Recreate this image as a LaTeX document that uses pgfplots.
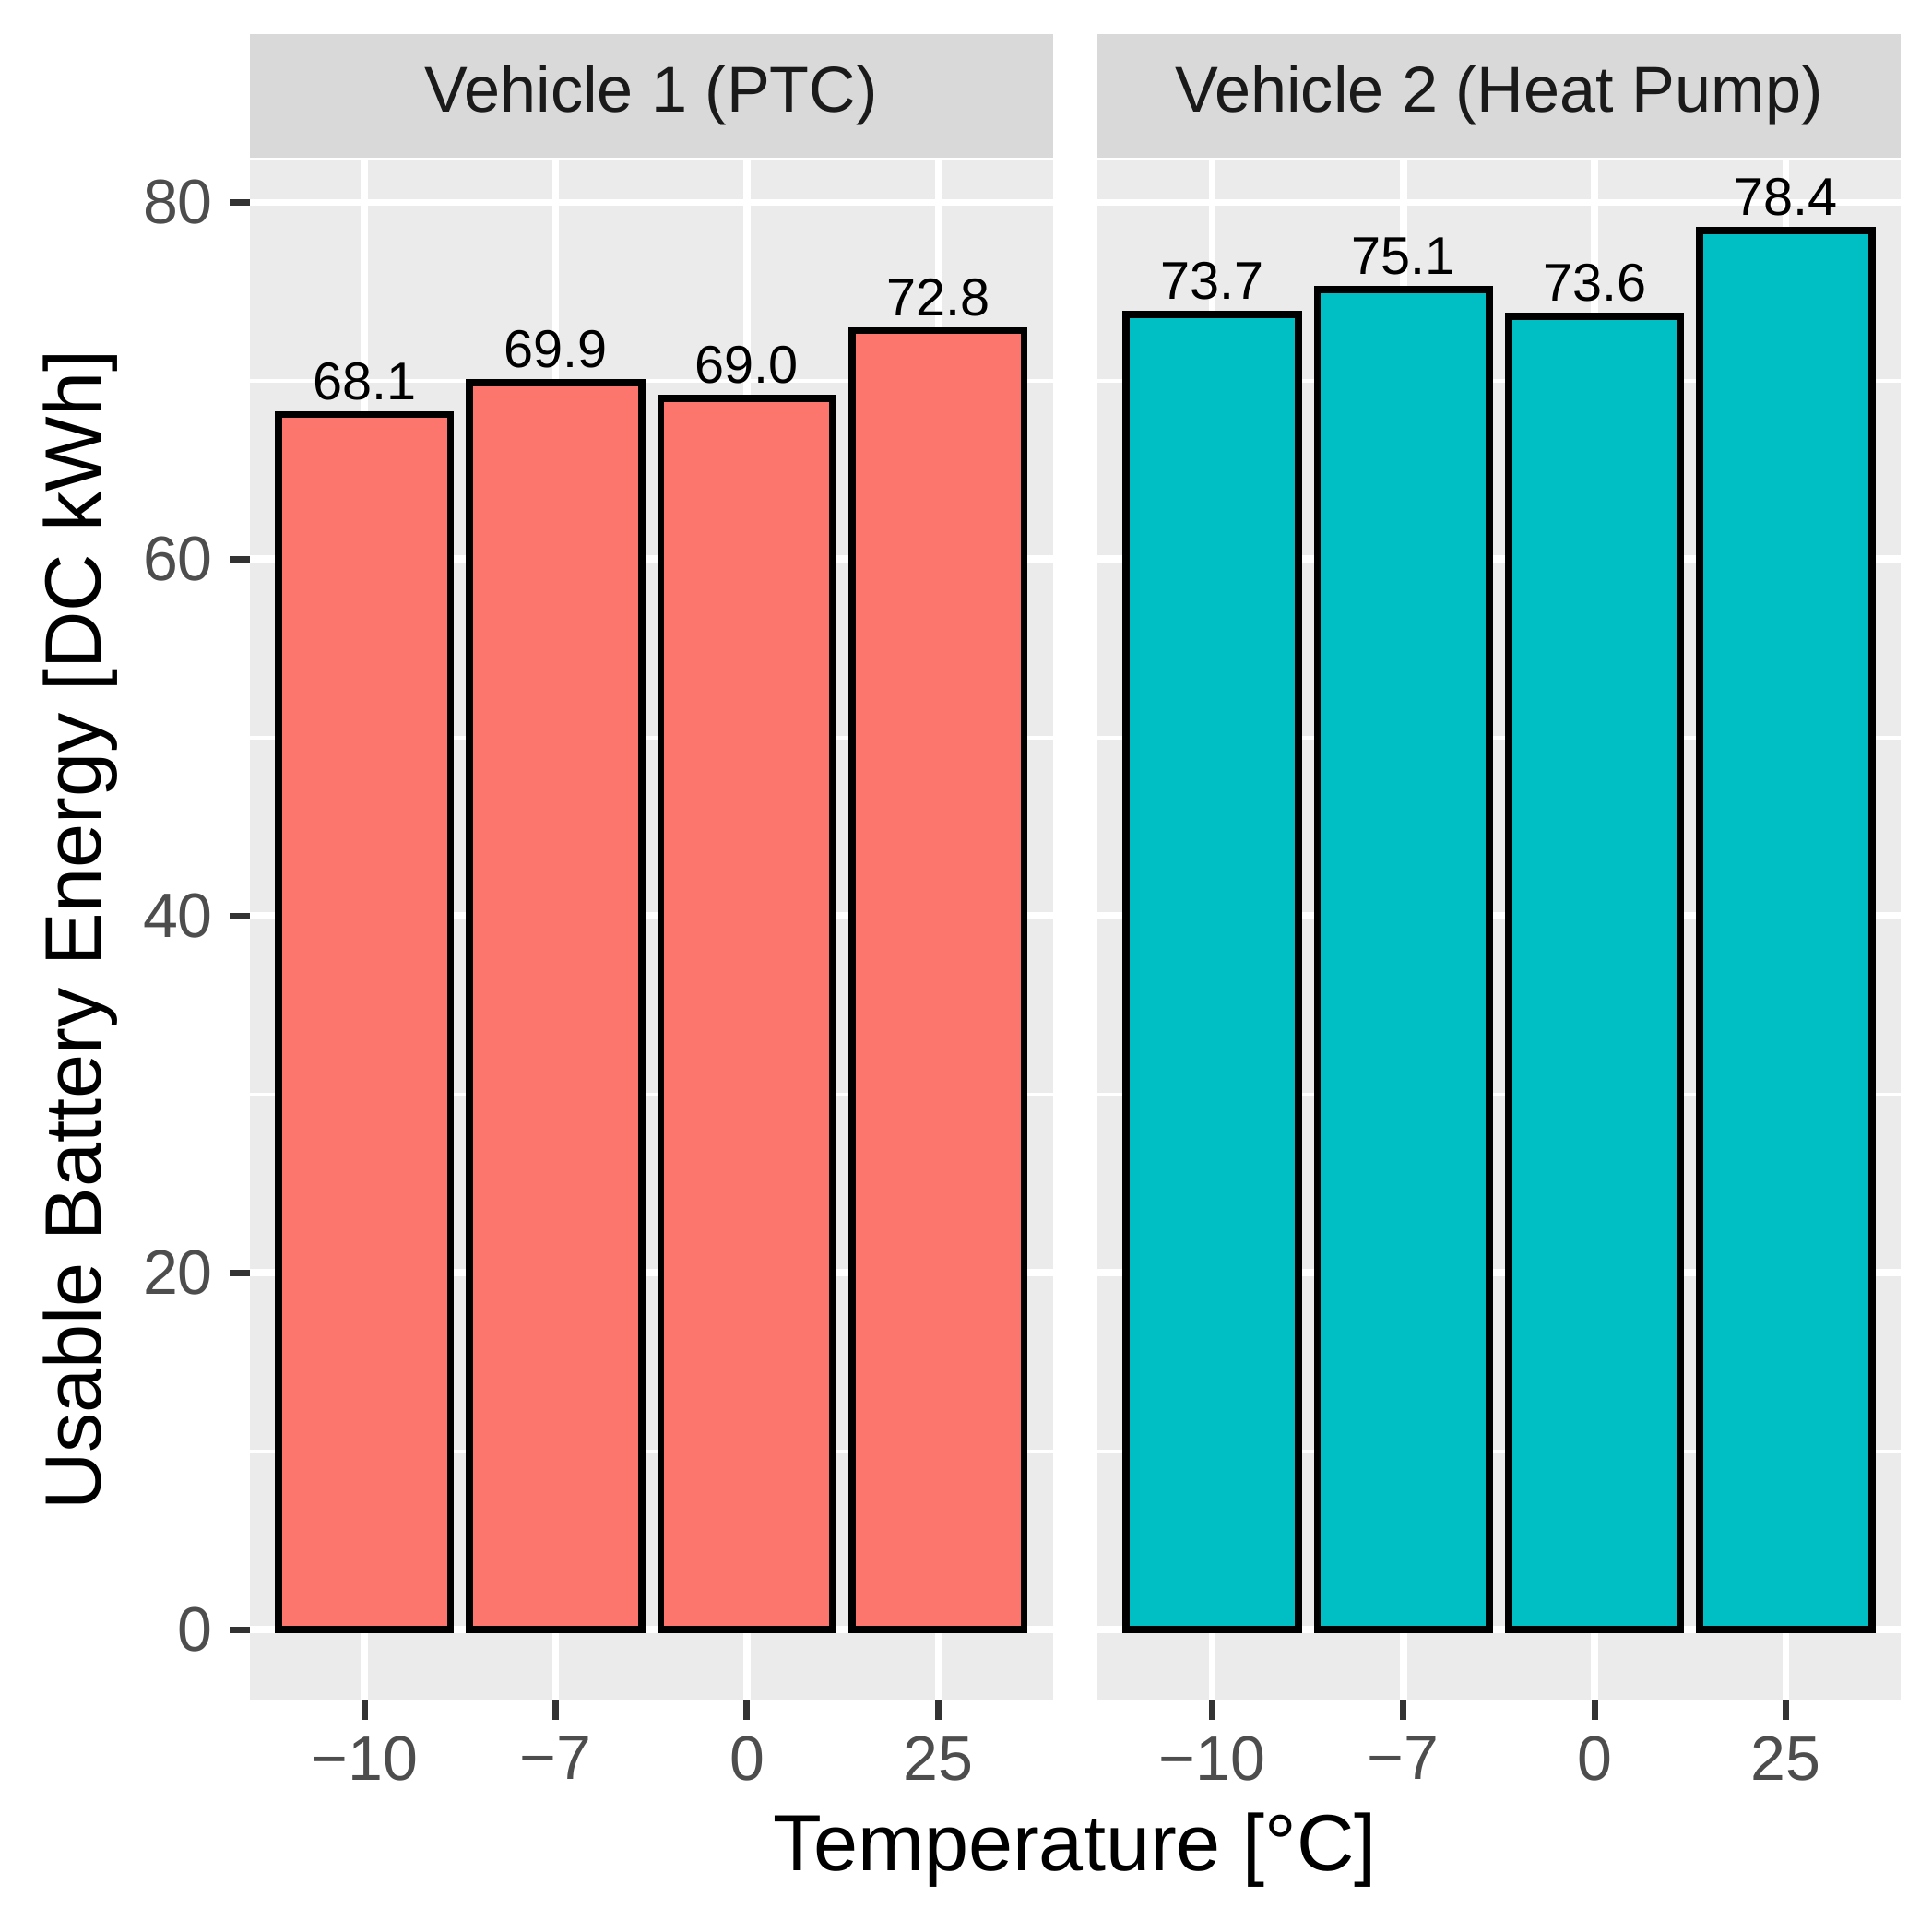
\documentclass[border=0pt]{standalone}
\usepackage{fontspec}
\setmainfont{Liberation Sans}
\usepackage{pgfplots}
\pgfplotsset{compat=1.18}
\definecolor{ggbg}{HTML}{EBEBEB}
\definecolor{stripc}{HTML}{D9D9D9}
\definecolor{ggred}{HTML}{FC766E}
\definecolor{ggteal}{HTML}{00BFC4}
\definecolor{gthirty}{HTML}{4D4D4D}
\definecolor{gtwenty}{HTML}{333333}
\definecolor{gten}{HTML}{1A1A1A}
\pgfplotsset{
 facet/.style={
  scale only axis, width=166.3pt, height=318.6pt,
  anchor=south west,
  xmin=0.4, xmax=4.6, ymin=-3.92, ymax=82.32,
  axis background/.style={fill=ggbg},
  axis line style={draw=none},
  xtick={1,2,3,4}, xticklabels={−10,−7,0,25},
  ytick={0,20,40,60,80}, yticklabels={0,20,40,60,80},
  minor ytick={10,30,50,70},
  xmajorgrids, ymajorgrids, yminorgrids,
  major grid style={white, line width=1.45pt},
  minor grid style={white, line width=0.72pt},
  tick align=outside, major tick length=4.1pt, minor tick length=0pt,
  tick style={gtwenty, line width=1.35pt},
  tick pos=left,
  xticklabel style={font=\fontsize{13}{13}\selectfont, text=gthirty},
  yticklabel style={font=\fontsize{13}{13}\selectfont, text=gthirty},
  every axis title shift=0pt,
  title style={at={(rel axis cs:0.5,1)}, anchor=south, fill=stripc, minimum width=166.3pt,
     minimum height=25.6pt, inner sep=0pt, yshift=0.5pt, font=\fontsize{13.4}{13.4}\selectfont, text=gten},
  ybar, bar width=0.9,
  nodes near coords={\pgfmathprintnumber[fixed,fixed zerofill,precision=1]{\pgfplotspointmeta}},
  every node near coord/.style={anchor=south, inner sep=2.3pt, font=\fontsize{11}{11}\selectfont, text=black},
  /pgf/number format/assume math mode=true,
 }
}
\begin{document}
\begin{tikzpicture}
\begin{axis}[facet, at={(0pt,0pt)},
  title={Vehicle 1 (PTC)},
  ylabel={Usable Battery Energy [DC kWh]},
  ylabel style={at={(axis description cs:0,0.5)}, anchor=center, yshift=35pt, font=\fontsize{16.5}{16.5}\selectfont, text=black},
  xlabel={Temperature [°C]},
  xlabel style={at={(axis description cs:1,0)}, anchor=center, xshift=4.6pt, yshift=-31.2pt, font=\fontsize{16.5}{16.5}\selectfont, text=black},
]
\addplot[fill=ggred, draw=black, line width=1.45pt] coordinates {(1,68.1) (2,69.9) (3,69.0) (4,72.8)};
\end{axis}
\begin{axis}[facet, at={(175.5pt,0pt)},
  title={Vehicle 2 (Heat Pump)},
  yticklabels={}, ytick style={draw=none},
]
\addplot[fill=ggteal, draw=black, line width=1.45pt] coordinates {(1,73.7) (2,75.1) (3,73.6) (4,78.4)};
\end{axis}
\pgfresetboundingbox
\path (-51.7pt,-48.1pt) rectangle (348.3pt,351.9pt);
\end{tikzpicture}
\end{document}
